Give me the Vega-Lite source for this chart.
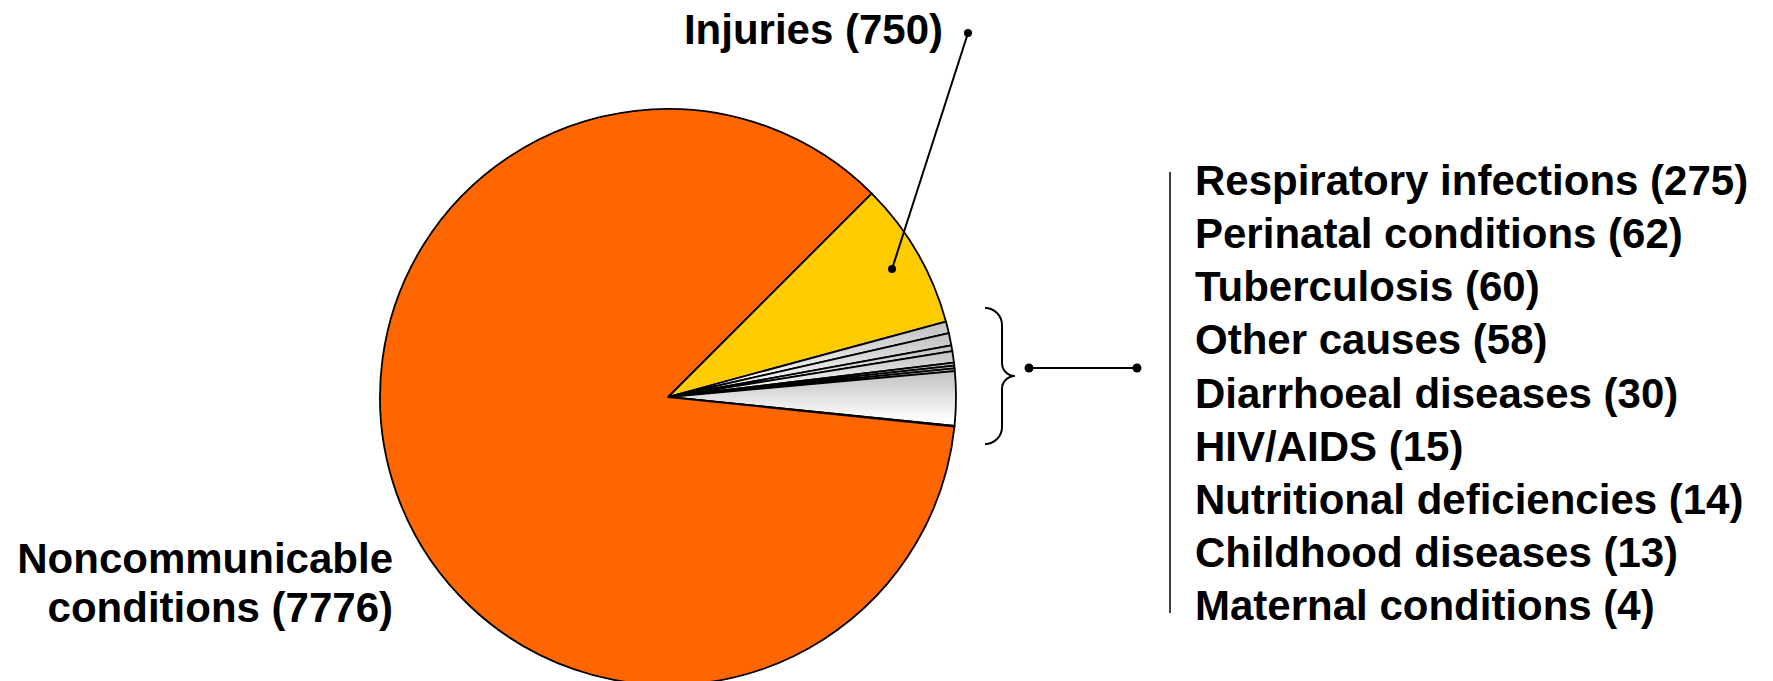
{
  "$schema": "https://vega.github.io/schema/vega-lite/v6.json",
  "width": 1773,
  "height": 681,
  "autosize": {"type": "none"},
  "padding": 0,
  "background": "white",
  "config": {"view": {"stroke": null}, "text": {"font": "Liberation Sans", "fontWeight": "bold", "fontSize": 42, "color": "#000000"}},
  "data": {
    "values": [
      {"cause": "Injuries", "deaths": 750, "group": "inj", "pieOrder": 1},
      {"cause": "Tuberculosis", "deaths": 60, "group": "other", "pieOrder": 2},
      {"cause": "Perinatal conditions", "deaths": 62, "group": "other", "pieOrder": 3},
      {"cause": "Diarrhoeal diseases", "deaths": 30, "group": "other", "pieOrder": 4},
      {"cause": "Other causes", "deaths": 58, "group": "other", "pieOrder": 5},
      {"cause": "HIV/AIDS", "deaths": 15, "group": "other", "pieOrder": 6},
      {"cause": "Nutritional deficiencies", "deaths": 14, "group": "other", "pieOrder": 7},
      {"cause": "Childhood diseases", "deaths": 13, "group": "other", "pieOrder": 8},
      {"cause": "Respiratory infections", "deaths": 275, "group": "other", "pieOrder": 9},
      {"cause": "Maternal conditions", "deaths": 4, "group": "other", "pieOrder": 10},
      {"cause": "Noncommunicable conditions", "deaths": 7776, "group": "nc", "pieOrder": 11}
    ]
  },
  "resolve": {"scale": {"y": "independent"}},
  "layer": [
    {
      "mark": {"type": "arc", "radius": 288, "stroke": "#000000", "strokeWidth": 1.8, "strokeJoin": "round"},
      "encoding": {
        "x": {"datum": 668, "type": "quantitative", "scale": {"domain": [0, 1773], "nice": false, "zero": false}, "axis": null},
        "y": {"datum": 397, "type": "quantitative", "scale": {"domain": [0, 681], "reverse": true, "nice": false, "zero": false}, "axis": null},
        "theta": {"field": "deaths", "type": "quantitative", "stack": true, "scale": {"range": [0.7854, 7.0686]}},
        "order": {"field": "pieOrder", "type": "quantitative"},
        "fill": {
          "condition": [
            {"test": "datum.group === 'nc'", "value": "#FF6600"},
            {"test": "datum.group === 'inj'", "value": "#FFCC00"}
          ],
          "value": {"gradient": "linear", "x1": 0, "y1": 0, "x2": 0, "y2": 1, "stops": [{"offset": 0, "color": "#C0C0C0"}, {"offset": 0.9, "color": "#FFFFFF"}, {"offset": 1, "color": "#FFFFFF"}]}
        }
      }
    },
    {
      "data": {"values": [{}]},
      "mark": {"type": "rule", "color": "#000000", "strokeWidth": 2},
      "encoding": {
        "x": {"datum": 968, "type": "quantitative", "scale": {"domain": [0, 1773], "nice": false, "zero": false}, "axis": null},
        "x2": {"datum": 892},
        "y": {"datum": 33, "type": "quantitative", "scale": {"domain": [0, 681], "reverse": true, "nice": false, "zero": false}, "axis": null},
        "y2": {"datum": 269}
      }
    },
    {
      "data": {"values": [{}]},
      "mark": {"type": "circle", "color": "#000000", "opacity": 1, "size": 64},
      "encoding": {
        "x": {"datum": 968, "type": "quantitative", "scale": {"domain": [0, 1773], "nice": false, "zero": false}, "axis": null},
        "y": {"datum": 33, "type": "quantitative", "scale": {"domain": [0, 681], "reverse": true, "nice": false, "zero": false}, "axis": null}
      }
    },
    {
      "data": {"values": [{}]},
      "mark": {"type": "circle", "color": "#000000", "opacity": 1, "size": 64},
      "encoding": {
        "x": {"datum": 892, "type": "quantitative", "scale": {"domain": [0, 1773], "nice": false, "zero": false}, "axis": null},
        "y": {"datum": 269, "type": "quantitative", "scale": {"domain": [0, 681], "reverse": true, "nice": false, "zero": false}, "axis": null}
      }
    },
    {
      "data": {"values": [{}]},
      "mark": {"type": "arc", "radius": 17, "radius2": 17, "theta": 0, "theta2": 1.5708, "filled": false, "stroke": "#000000", "strokeWidth": 2},
      "encoding": {
        "x": {"datum": 985, "type": "quantitative", "scale": {"domain": [0, 1773], "nice": false, "zero": false}, "axis": null},
        "y": {"datum": 325, "type": "quantitative", "scale": {"domain": [0, 681], "reverse": true, "nice": false, "zero": false}, "axis": null}
      }
    },
    {
      "data": {"values": [{}]},
      "mark": {"type": "rule", "color": "#000000", "strokeWidth": 2},
      "encoding": {
        "x": {"datum": 1002, "type": "quantitative", "scale": {"domain": [0, 1773], "nice": false, "zero": false}, "axis": null},
        "y": {"datum": 325, "type": "quantitative", "scale": {"domain": [0, 681], "reverse": true, "nice": false, "zero": false}, "axis": null},
        "y2": {"datum": 363}
      }
    },
    {
      "data": {"values": [{}]},
      "mark": {"type": "arc", "radius": 13, "radius2": 13, "theta": 3.1416, "theta2": 4.7124, "filled": false, "stroke": "#000000", "strokeWidth": 2},
      "encoding": {
        "x": {"datum": 1015, "type": "quantitative", "scale": {"domain": [0, 1773], "nice": false, "zero": false}, "axis": null},
        "y": {"datum": 363, "type": "quantitative", "scale": {"domain": [0, 681], "reverse": true, "nice": false, "zero": false}, "axis": null}
      }
    },
    {
      "data": {"values": [{}]},
      "mark": {"type": "arc", "radius": 13, "radius2": 13, "theta": 4.7124, "theta2": 6.2832, "filled": false, "stroke": "#000000", "strokeWidth": 2},
      "encoding": {
        "x": {"datum": 1015, "type": "quantitative", "scale": {"domain": [0, 1773], "nice": false, "zero": false}, "axis": null},
        "y": {"datum": 389, "type": "quantitative", "scale": {"domain": [0, 681], "reverse": true, "nice": false, "zero": false}, "axis": null}
      }
    },
    {
      "data": {"values": [{}]},
      "mark": {"type": "rule", "color": "#000000", "strokeWidth": 2},
      "encoding": {
        "x": {"datum": 1002, "type": "quantitative", "scale": {"domain": [0, 1773], "nice": false, "zero": false}, "axis": null},
        "y": {"datum": 389, "type": "quantitative", "scale": {"domain": [0, 681], "reverse": true, "nice": false, "zero": false}, "axis": null},
        "y2": {"datum": 427}
      }
    },
    {
      "data": {"values": [{}]},
      "mark": {"type": "arc", "radius": 17, "radius2": 17, "theta": 1.5708, "theta2": 3.1416, "filled": false, "stroke": "#000000", "strokeWidth": 2},
      "encoding": {
        "x": {"datum": 985, "type": "quantitative", "scale": {"domain": [0, 1773], "nice": false, "zero": false}, "axis": null},
        "y": {"datum": 427, "type": "quantitative", "scale": {"domain": [0, 681], "reverse": true, "nice": false, "zero": false}, "axis": null}
      }
    },
    {
      "data": {"values": [{}]},
      "mark": {"type": "rule", "color": "#000000", "strokeWidth": 2},
      "encoding": {
        "x": {"datum": 1029, "type": "quantitative", "scale": {"domain": [0, 1773], "nice": false, "zero": false}, "axis": null},
        "x2": {"datum": 1137},
        "y": {"datum": 368, "type": "quantitative", "scale": {"domain": [0, 681], "reverse": true, "nice": false, "zero": false}, "axis": null}
      }
    },
    {
      "data": {"values": [{}]},
      "mark": {"type": "circle", "color": "#000000", "opacity": 1, "size": 80},
      "encoding": {
        "x": {"datum": 1029, "type": "quantitative", "scale": {"domain": [0, 1773], "nice": false, "zero": false}, "axis": null},
        "y": {"datum": 368, "type": "quantitative", "scale": {"domain": [0, 681], "reverse": true, "nice": false, "zero": false}, "axis": null}
      }
    },
    {
      "data": {"values": [{}]},
      "mark": {"type": "circle", "color": "#000000", "opacity": 1, "size": 80},
      "encoding": {
        "x": {"datum": 1137, "type": "quantitative", "scale": {"domain": [0, 1773], "nice": false, "zero": false}, "axis": null},
        "y": {"datum": 368, "type": "quantitative", "scale": {"domain": [0, 681], "reverse": true, "nice": false, "zero": false}, "axis": null}
      }
    },
    {
      "data": {"values": [{}]},
      "mark": {"type": "rule", "color": "#000000", "strokeWidth": 1.5},
      "encoding": {
        "x": {"datum": 1170, "type": "quantitative", "scale": {"domain": [0, 1773], "nice": false, "zero": false}, "axis": null},
        "y": {"datum": 172, "type": "quantitative", "scale": {"domain": [0, 681], "reverse": true, "nice": false, "zero": false}, "axis": null},
        "y2": {"datum": 613}
      }
    },
    {
      "transform": [
        {"filter": "datum.group === 'other'"},
        {"calculate": "datum.cause + ' (' + datum.deaths + ')'", "as": "label"}
      ],
      "mark": {"type": "text", "align": "left", "baseline": "alphabetic"},
      "encoding": {
        "x": {"datum": 1195, "type": "quantitative", "scale": {"domain": [0, 1773], "nice": false, "zero": false}, "axis": null},
        "y": {"field": "cause", "type": "nominal", "sort": {"field": "deaths", "order": "descending"}, "scale": {"type": "point", "range": [195, 620], "padding": 0}, "axis": null},
        "text": {"field": "label", "type": "nominal"}
      }
    },
    {
      "transform": [
        {"filter": "datum.group === 'inj'"},
        {"calculate": "datum.cause + ' (' + datum.deaths + ')'", "as": "label"}
      ],
      "mark": {"type": "text", "align": "right", "baseline": "alphabetic"},
      "encoding": {
        "x": {"datum": 943, "type": "quantitative", "scale": {"domain": [0, 1773], "nice": false, "zero": false}, "axis": null},
        "y": {"datum": 44, "type": "quantitative", "scale": {"domain": [0, 681], "reverse": true, "nice": false, "zero": false}, "axis": null},
        "text": {"field": "label", "type": "nominal"}
      }
    },
    {
      "transform": [
        {"filter": "datum.group === 'nc'"},
        {"calculate": "replace(datum.cause, ' ', '\\n') + ' (' + datum.deaths + ')'", "as": "label"}
      ],
      "mark": {"type": "text", "align": "right", "baseline": "alphabetic", "lineBreak": "\n", "lineHeight": 49},
      "encoding": {
        "x": {"datum": 393, "type": "quantitative", "scale": {"domain": [0, 1773], "nice": false, "zero": false}, "axis": null},
        "y": {"datum": 573, "type": "quantitative", "scale": {"domain": [0, 681], "reverse": true, "nice": false, "zero": false}, "axis": null},
        "text": {"field": "label", "type": "nominal"}
      }
    }
  ]
}
